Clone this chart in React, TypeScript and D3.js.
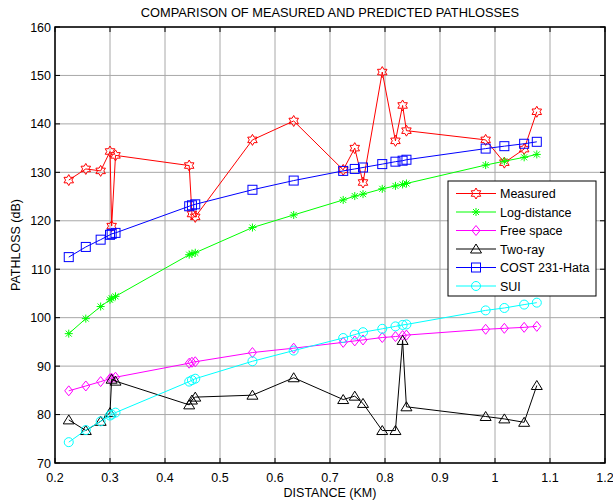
import React from "react";
import * as d3 from "d3";

// distances in km, shared by every series
const distance = [0.225, 0.256, 0.283, 0.3, 0.303, 0.31, 0.444, 0.449, 0.455, 0.559, 0.634, 0.724, 0.745, 0.76, 0.795, 0.819, 0.832, 0.839, 0.983, 1.017, 1.053, 1.076];

const measured = [128.4, 130.7, 130.3, 134.3, 118.9, 133.5, 131.4, 121.4, 120.8, 136.7, 140.6, 130.5, 135.0, 127.9, 150.7, 136.5, 143.8, 138.6, 136.7, 132.0, 134.8, 142.5];
const logDistance = [96.7, 99.8, 102.3, 103.7, 104.0, 104.4, 113.0, 113.2, 113.4, 118.6, 121.2, 124.3, 125.1, 125.5, 126.6, 127.2, 127.5, 127.7, 131.5, 132.3, 133.1, 133.7];
const freeSpace = [84.9, 85.9, 86.8, 87.4, 87.5, 87.7, 90.6, 90.8, 90.9, 92.8, 93.7, 94.9, 95.2, 95.4, 95.9, 96.1, 96.3, 96.4, 97.6, 97.8, 98.0, 98.2];
const twoRay = [78.9, 76.7, 78.6, 80.4, 87.3, 86.9, 82.0, 83.0, 83.6, 84.0, 87.6, 83.1, 83.8, 82.3, 76.7, 76.7, 95.3, 81.6, 79.6, 79.1, 78.4, 86.0];
const cost231 = [112.5, 114.6, 116.1, 117.1, 117.3, 117.5, 123.0, 123.2, 123.4, 126.4, 128.3, 130.3, 130.7, 131.0, 131.7, 132.2, 132.4, 132.6, 134.9, 135.4, 135.9, 136.3];
const sui = [74.3, 76.8, 78.6, 79.8, 80.0, 80.4, 86.8, 87.1, 87.4, 91.0, 93.2, 95.8, 96.5, 97.0, 97.7, 98.2, 98.5, 98.6, 101.5, 102.0, 102.7, 103.1];

const xTicks = [0.2, 0.3, 0.4, 0.5, 0.6, 0.7, 0.8, 0.9, 1, 1.1, 1.2];
const yTicks = [70, 80, 90, 100, 110, 120, 130, 140, 150, 160];

type Marker = "hexagram" | "asterisk" | "diamond" | "triangle" | "square" | "circle";

const seriesList: { name: string; values: number[]; color: string; marker: Marker }[] = [
  { name: "Measured", values: measured, color: "#ff0000", marker: "hexagram" },
  { name: "Log-distance", values: logDistance, color: "#00ff00", marker: "asterisk" },
  { name: "Free space", values: freeSpace, color: "#ff00ff", marker: "diamond" },
  { name: "Two-ray", values: twoRay, color: "#000000", marker: "triangle" },
  { name: "COST 231-Hata", values: cost231, color: "#0000ff", marker: "square" },
  { name: "SUI", values: sui, color: "#00ffff", marker: "circle" },
];

const width = 613;
const height = 501;
const margin = { left: 55, right: 8, top: 27, bottom: 38 };
const font = "'Liberation Sans', Arial, sans-serif";

const hexagramPath = (r: number) => {
  const pts: string[] = [];
  for (let i = 0; i < 12; i++) {
    const a = -Math.PI / 2 + (i * Math.PI) / 6;
    const rr = i % 2 === 0 ? r : r / Math.sqrt(3);
    pts.push(`${(rr * Math.cos(a)).toFixed(2)},${(rr * Math.sin(a)).toFixed(2)}`);
  }
  return "M" + pts.join("L") + "Z";
};

const MarkerShape = ({ type, x, y, color }: { type: Marker; x: number; y: number; color: string }) => {
  const common = { fill: "none", stroke: color, strokeWidth: 1 };
  switch (type) {
    case "hexagram":
      return <path d={hexagramPath(5.5)} transform={`translate(${x},${y})`} {...common} />;
    case "asterisk":
      return (
        <path
          d="M-4,0H4M0,-4V4M-3,-3L3,3M-3,3L3,-3"
          transform={`translate(${x},${y})`}
          {...common}
        />
      );
    case "diamond":
      return <path d="M0,-5L4,0L0,5L-4,0Z" transform={`translate(${x},${y})`} {...common} />;
    case "triangle":
      return <path d="M0,-5L5.5,4L-5.5,4Z" transform={`translate(${x},${y})`} {...common} />;
    case "square":
      return <rect x={x - 4.5} y={y - 4.5} width={9} height={9} {...common} />;
    default:
      return <circle cx={x} cy={y} r={4.5} {...common} />;
  }
};

export default function App() {
  const x = d3.scaleLinear().domain([0.2, 1.2]).range([margin.left, width - margin.right]);
  const y = d3.scaleLinear().domain([70, 160]).range([height - margin.bottom, margin.top]);
  const [x0, x1] = x.range();
  const [y0, y1] = y.range();

  const line = (vals: number[]) =>
    d3
      .line<number>()
      .x((_, i) => x(distance[i]))
      .y((d) => y(d))(vals) ?? "";

  const legend = { x: 448, y: 181, w: 148, h: 115, row: 18.5 };

  return (
    <svg
      width={width}
      height={height}
      style={{ position: "absolute", left: 0, top: 0, background: "#fff", fontFamily: font }}
    >
      <rect width={width} height={height} fill="#fff" />

      {/* grid */}
      {xTicks.map((t) => (
        <line key={"gx" + t} x1={x(t)} x2={x(t)} y1={y0} y2={y1} stroke="#a8a8a8" strokeWidth={1} />
      ))}
      {yTicks.map((t) => (
        <line key={"gy" + t} x1={x0} x2={x1} y1={y(t)} y2={y(t)} stroke="#a8a8a8" strokeWidth={1} />
      ))}

      {/* ticks on all four sides, pointing in */}
      {xTicks.map((t) => (
        <g key={"tx" + t} stroke="#000">
          <line x1={x(t)} x2={x(t)} y1={y0} y2={y0 - 5} />
          <line x1={x(t)} x2={x(t)} y1={y1} y2={y1 + 5} />
        </g>
      ))}
      {yTicks.map((t) => (
        <g key={"ty" + t} stroke="#000">
          <line x1={x0} x2={x0 + 5} y1={y(t)} y2={y(t)} />
          <line x1={x1} x2={x1 - 5} y1={y(t)} y2={y(t)} />
        </g>
      ))}

      {/* series */}
      {seriesList.map((s) => (
        <g key={s.name}>
          <path d={line(s.values)} fill="none" stroke={s.color} strokeWidth={1} />
          {s.values.map((v, i) => (
            <MarkerShape key={i} type={s.marker} x={x(distance[i])} y={y(v)} color={s.color} />
          ))}
        </g>
      ))}

      <rect x={x0} y={y1} width={x1 - x0} height={y0 - y1} fill="none" stroke="#000" strokeWidth={1.5} />

      {/* tick labels */}
      {xTicks.map((t) => (
        <text key={"lx" + t} x={x(t)} y={y0 + 19} textAnchor="middle" fontSize={12.5} fill="#000">
          {d3.format("~g")(t)}
        </text>
      ))}
      {yTicks.map((t) => (
        <text key={"ly" + t} x={x0 - 4} y={y(t) + 4.5} textAnchor="end" fontSize={12.5} fill="#000">
          {t}
        </text>
      ))}

      <text x={330} y={17} textAnchor="middle" fontSize={12.8} fill="#000">
        COMPARISON OF MEASURED AND PREDICTED PATHLOSSES
      </text>
      <text x={(x0 + x1) / 2} y={497} textAnchor="middle" fontSize={12.5} fill="#000">
        DISTANCE (KM)
      </text>
      <text
        transform={`translate(20,${(y0 + y1) / 2}) rotate(-90)`}
        textAnchor="middle"
        fontSize={12.5}
        fill="#000"
      >
        PATHLOSS (dB)
      </text>

      {/* legend */}
      <rect x={legend.x} y={legend.y} width={legend.w} height={legend.h} fill="#fff" stroke="#000" strokeWidth={1} />
      {seriesList.map((s, i) => {
        const ly = legend.y + 12.5 + i * legend.row;
        return (
          <g key={"lg" + s.name}>
            <line x1={legend.x + 8} x2={legend.x + 48} y1={ly} y2={ly} stroke={s.color} />
            <MarkerShape type={s.marker} x={legend.x + 28} y={ly} color={s.color} />
            <text x={legend.x + 52} y={ly + 4.5} fontSize={12.5} fill="#000">
              {s.name}
            </text>
          </g>
        );
      })}
    </svg>
  );
}
